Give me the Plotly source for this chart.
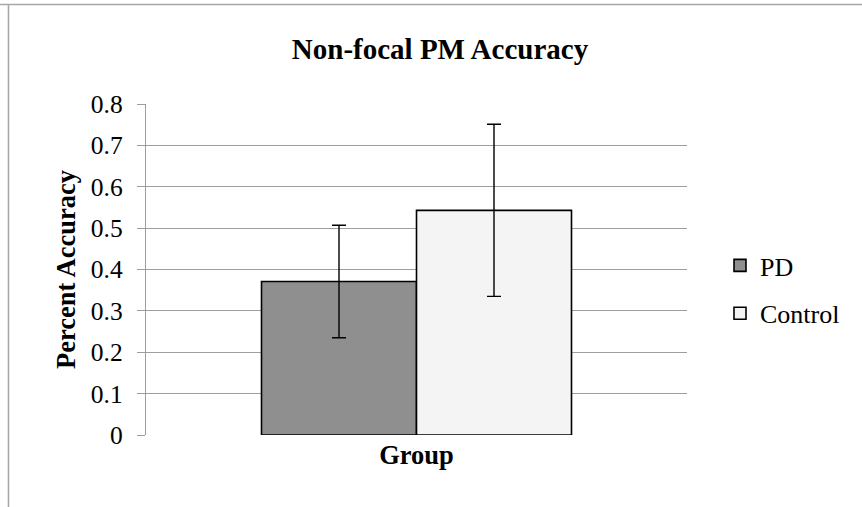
import plotly.graph_objects as go

categories = ["Group"]
series_names = ["PD", "Control"]
pd_values = [0.371]
control_values = [0.543]
pd_errors = [0.136]
control_errors = [0.208]
y_ticks = [0, 0.1, 0.2, 0.3, 0.4, 0.5, 0.6, 0.7, 0.8]
y_tick_labels = ["0", "0.1", "0.2", "0.3", "0.4", "0.5", "0.6", "0.7", "0.8"]

W, H = 862, 507
L, R, T, B = 146, 175, 104, 72
pw = W - L - R
ph = H - T - B

def px_x(p):
    return (p - L) / pw

def px_y(p):
    return (H - B - p) / ph

serif = "Liberation Serif, Times New Roman, serif"

fig = go.Figure()
fig.add_trace(go.Bar(
    name=series_names[0], x=categories, y=pd_values,
    marker=dict(color="#8f8f8f", line=dict(color="black", width=1.6)),
    error_y=dict(type="data", array=pd_errors, color="black", thickness=1.4, width=7),
    legendgroup="a",
))
fig.add_trace(go.Bar(
    name=series_names[1], x=categories, y=control_values,
    marker=dict(color="#f4f4f4", line=dict(color="black", width=1.6)),
    error_y=dict(type="data", array=control_errors, color="black", thickness=1.4, width=7),
    legendgroup="b",
))

fig.update_layout(
    width=W, height=H,
    margin=dict(l=L, r=R, t=T, b=B),
    paper_bgcolor="white", plot_bgcolor="white",
    barmode="group", bargap=0.427, bargroupgap=0,
    font=dict(family=serif, size=26, color="black"),
    title=dict(text="<b>Non-focal PM Accuracy</b>", x=px_x(440), xref="paper",
               xanchor="center", y=1 - 49 / H, yanchor="middle",
               font=dict(family=serif, size=29, color="black")),
    showlegend=True,
    legend=dict(x=px_x(720), y=px_y(242), xanchor="left", yanchor="top",
                traceorder="grouped", tracegroupgap=11,
                font=dict(family=serif, size=26, color="black"),
                bgcolor="rgba(0,0,0,0)", itemwidth=30),
    xaxis=dict(showticklabels=False, ticks="", showgrid=False, zeroline=False,
               showline=False,
               title=dict(text="<b>Group</b>", standoff=10,
                          font=dict(family=serif, size=26.5, color="black"))),
    yaxis=dict(range=[0, 0.8], tickvals=y_ticks, ticktext=y_tick_labels,
               showgrid=True, gridcolor="#9e9e9e", gridwidth=1.4,
               zeroline=False, showline=True, linecolor="#9e9e9e", linewidth=1.4,
               ticks="outside", ticklen=8, tickcolor="#9e9e9e", tickwidth=1.4,
               ticklabelstandoff=9,
               tickfont=dict(family=serif, size=25.5, color="black"),
               title=dict(text="<b>Percent Accuracy</b>", standoff=7,
                          font=dict(family=serif, size=26.5, color="black"))),
)

fig.add_shape(type="line", xref="paper", yref="paper",
              x0=px_x(0), x1=px_x(W + 10), y0=px_y(4.5), y1=px_y(4.5),
              line=dict(color="#a8a8a8", width=1.6), layer="above")
fig.add_shape(type="line", xref="paper", yref="paper",
              x0=px_x(8.5), x1=px_x(8.5), y0=px_y(4.5), y1=px_y(H + 10),
              line=dict(color="#a8a8a8", width=1.6), layer="above")

fig.write_html("out.html", config={"displayModeBar": False},
               post_script="document.body.style.margin='0';")
